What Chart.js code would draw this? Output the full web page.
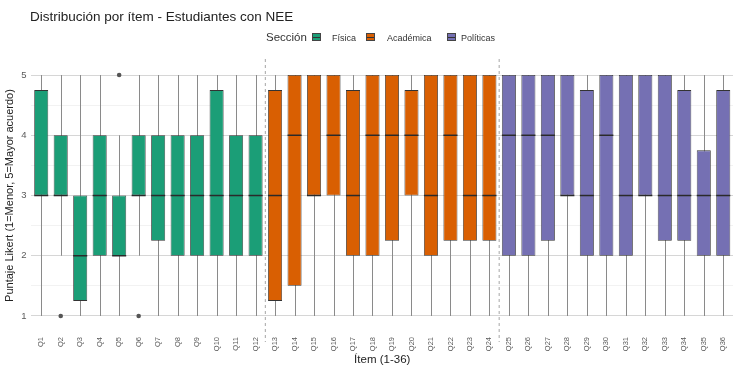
<!DOCTYPE html>
<html lang="es">
<head>
<meta charset="UTF-8">
<title>Distribución por ítem</title>
<script src="https://cdn.jsdelivr.net/npm/chart.js"></script>
<style>
    body { margin: 0; background: #fff; font-family: "Liberation Sans", Arial, sans-serif; }
    #wrap { position: relative; width: 736px; height: 369px; }
    #title { position: absolute; left: 30px; top: 9px; font-size: 13.5px; color: #222; }
    .lg { position: absolute; top: 31px; font-size: 9px; color: #333; line-height: 14px; }
    .lgHead { font-size: 11.5px; top: 30px; }
    .sw { position: absolute; top: 33px; width: 9px; height: 8px; border: 1px solid #444; box-sizing: border-box; }
    .sw::after { content: ""; position: absolute; left: 0; right: 0; top: 2.5px; height: 1px; background: #333; }
</style>
</head>
<body>
<div id="wrap">
    <div id="title">Distribución por ítem - Estudiantes con NEE</div>
    <span class="lg lgHead" style="left:266px">Sección</span>
    <span class="sw" style="left:312px;background:#1B9E77"></span>
    <span class="lg" style="left:332px">Física</span>
    <span class="sw" style="left:366px;background:#D95F02"></span>
    <span class="lg" style="left:387px">Académica</span>
    <span class="sw" style="left:447px;background:#7570B3"></span>
    <span class="lg" style="left:461px">Políticas</span>
    <canvas id="chart" width="736" height="369"></canvas>
</div>

<script>
// items and sections
const items = ['Q1','Q2','Q3','Q4','Q5','Q6','Q7','Q8','Q9','Q10','Q11','Q12',
    'Q13','Q14','Q15','Q16','Q17','Q18','Q19','Q20','Q21','Q22','Q23','Q24',
    'Q25','Q26','Q27','Q28','Q29','Q30','Q31','Q32','Q33','Q34','Q35','Q36'];
const sections = ['Física', 'Académica', 'Políticas'];
const sectionColors = ['#1B9E77', '#D95F02', '#7570B3'];
const itemSection = [0,0,0,0,0,0,0,0,0,0,0,0, 1,1,1,1,1,1,1,1,1,1,1,1, 2,2,2,2,2,2,2,2,2,2,2,2];

// boxplot stats
const q1Vals  = [3,3,1.25,2,2,3,2.25,2,2,2,2,2, 1.25,1.5,3,3,2,2,2.25,3,2,2.25,2.25,2.25, 2,2,2.25,3,2,2,2,3,2.25,2.25,2,2];
const medVals = [3,3,2,3,2,3,3,3,3,3,3,3, 3,4,3,4,3,4,4,4,3,4,3,3, 4,4,4,3,3,4,3,3,3,3,3,3];
const q3Vals  = [4.75,4,3,4,3,4,4,4,4,4.75,4,4, 4.75,5,5,5,4.75,5,5,4.75,5,5,5,5, 5,5,5,5,4.75,5,5,5,5,4.75,3.75,4.75];
const lowVals = [1,2,1,1,1,2,1,1,1,1,1,1, 1,1,1,1,1,1,1,1,1,1,1,1, 1,1,1,1,1,1,1,1,1,1,1,1];
const highVals= [5,5,5,5,4,5,5,5,5,5,5,5, 5,5,5,5,5,5,5,5,5,5,5,5, 5,5,5,5,5,5,5,5,5,5,5,5];
const outlierItems = ['Q2','Q5','Q6'];
const outlierVals  = [1, 5, 1];

const yTicks = [1, 1.5, 2, 2.5, 3, 3.5, 4, 4.5, 5];
const sectionBreaks = [12, 24]; // dashed line after these item counts

const datasets = sections.map((name, s) => ({
    label: name,
    data: items.map((q, i) => itemSection[i] === s ? [q1Vals[i], q3Vals[i]] : null),
    backgroundColor: sectionColors[s],
    borderColor: '#333',
    borderWidth: 0.8,
    borderSkipped: false,
    barPercentage: 0.72,
    categoryPercentage: 1
}));

const boxExtras = {
    id: 'boxExtras',
    beforeDatasetsDraw(chart) {
        const ctx = chart.ctx, x = chart.scales.x, y = chart.scales.y;
        ctx.save();
        // whiskers
        ctx.strokeStyle = '#8a8a8a';
        ctx.lineWidth = 1;
        items.forEach((q, i) => {
            const px = Math.round(x.getPixelForValue(i)) + 0.5;
            ctx.beginPath();
            ctx.moveTo(px, y.getPixelForValue(lowVals[i]));
            ctx.lineTo(px, y.getPixelForValue(highVals[i]));
            ctx.stroke();
        });
        // section separators
        ctx.strokeStyle = '#a6a6a6';
        ctx.setLineDash([3, 3]);
        sectionBreaks.forEach(b => {
            const px = (x.getPixelForValue(b - 1) + x.getPixelForValue(b)) / 2;
            ctx.beginPath();
            ctx.moveTo(px, chart.chartArea.top - 4);
            ctx.lineTo(px, chart.chartArea.bottom + 14);
            ctx.stroke();
        });
        ctx.restore();
    },
    afterDatasetsDraw(chart) {
        const ctx = chart.ctx, x = chart.scales.x, y = chart.scales.y;
        const half = (x.getPixelForValue(1) - x.getPixelForValue(0)) * 0.72 / 2;
        ctx.save();
        ctx.strokeStyle = '#2a2a2a';
        ctx.lineWidth = 1.5;
        items.forEach((q, i) => {
            const px = x.getPixelForValue(i);
            const py = y.getPixelForValue(medVals[i]);
            ctx.beginPath();
            ctx.moveTo(px - half, py);
            ctx.lineTo(px + half, py);
            ctx.stroke();
        });
        ctx.fillStyle = '#555';
        outlierItems.forEach((q, k) => {
            ctx.beginPath();
            ctx.arc(x.getPixelForValue(items.indexOf(q)), y.getPixelForValue(outlierVals[k]), 2.3, 0, Math.PI * 2);
            ctx.fill();
        });
        ctx.restore();
    }
};

new Chart(document.getElementById('chart'), {
    type: 'bar',
    data: { labels: items, datasets: datasets },
    plugins: [boxExtras],
    options: {
        responsive: false,
        animation: false,
        grouped: false,
        layout: { padding: { top: 63, right: 3, bottom: 0, left: 3 } },
        plugins: {
            legend: { display: false },
            title: { display: false },
            tooltip: { enabled: false }
        },
        scales: {
            x: {
                grid: { display: false },
                border: { display: false },
                ticks: {
                    minRotation: 90, maxRotation: 90, padding: 1,
                    color: '#5a5a5a',
                    font: { family: 'Liberation Sans', size: 7.5 }
                },
                title: {
                    display: true, text: 'Ítem (1-36)', color: '#222', padding: { top: 1, bottom: 2 },
                    font: { family: 'Liberation Sans', size: 11.5 }
                }
            },
            y: {
                min: 0.8, max: 5.2,
                afterBuildTicks: axis => { axis.ticks = yTicks.map(v => ({ value: v })); },
                grid: {
                    color: c => Number.isInteger(c.tick.value) ? '#d6d6d6' : '#ececec',
                    lineWidth: c => Number.isInteger(c.tick.value) ? 1 : 0.7,
                    drawTicks: false
                },
                border: { display: false },
                ticks: {
                    padding: 5,
                    color: '#5a5a5a',
                    font: { family: 'Liberation Sans', size: 9.5 },
                    callback: v => Number.isInteger(v) ? v : ''
                },
                title: {
                    display: true, text: 'Puntaje Likert (1=Menor, 5=Mayor acuerdo)', color: '#222', padding: 0,
                    font: { family: 'Liberation Sans', size: 11 }
                }
            }
        }
    }
});
</script>
</body>
</html>
